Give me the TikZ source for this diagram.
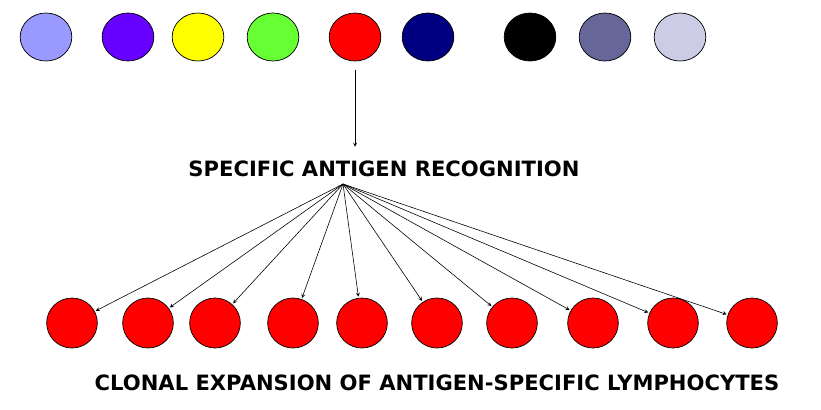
\documentclass[tikz,border=0pt]{standalone}
\usepackage{fontspec}
\setmainfont{DejaVu Sans}
\usepackage{tikz}
\usetikzlibrary{arrows,positioning,shapes.geometric}

\begin{document}
\begin{tikzpicture}[x=0.03cm, y=-0.03cm, >=stealth]
                    % Define styles
                    \tikzstyle{cell} = [ellipse, draw, line width=0.6pt, minimum width=1.55cm, minimum height=1.44cm, inner sep=0pt]
                    \tikzstyle{clone} = [cell, fill=red, minimum width=1.52cm, minimum height=1.5cm]
                    \tikzstyle{label} = [font=\bfseries\fontsize{18}{20}\selectfont, inner sep=0pt]
                    \tikzstyle{line} = [draw, ->, line width=0.5pt]
                    \useasboundingbox (0,0) rectangle (821,409);

                    % Lymphocyte repertoire
                    \definecolor{c1}{HTML}{9999FF}
                    \definecolor{c2}{HTML}{6600FF}
                    \definecolor{c3}{HTML}{FFFF00}
                    \definecolor{c4}{HTML}{66FF33}
                    \definecolor{c5}{HTML}{FF0000}
                    \definecolor{c6}{HTML}{000080}
                    \definecolor{c7}{HTML}{000000}
                    \definecolor{c8}{HTML}{666699}
                    \definecolor{c9}{HTML}{CCCCE6}
                    \foreach \x [count=\i] in {46,128,198,273,355,428,530,605,680}
                        \node [cell, fill=c\i] (cell\i) at (\x,37) {};

                    \node [label] (recog) at (384,169) {SPECIFIC ANTIGEN RECOGNITION};
                    \coordinate (hub) at (343,184);
                    \draw [line, shorten <=7pt, shorten >=12pt] (cell5) -- (cell5 |- recog.north);

                    % Clones
                    \foreach \x [count=\i] in {72,148,215,293,362,437,512,593,673,752} {
                        \node [clone] (clone\i) at (\x,323) {};
                        \draw [line, shorten >=1pt] (hub) -- (clone\i);
                    }

                    \node [label] (expand) at (437,383) {CLONAL EXPANSION OF ANTIGEN-SPECIFIC LYMPHOCYTES};
                \end{tikzpicture}
\end{document}
